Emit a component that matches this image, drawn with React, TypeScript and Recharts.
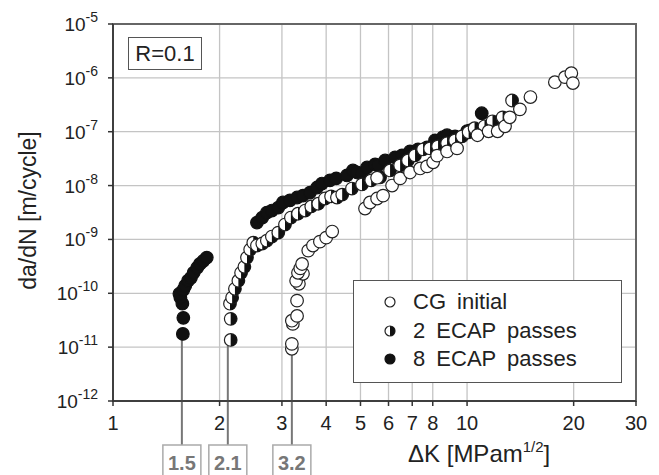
import React from 'react';
import {
  ScatterChart,
  Scatter,
  XAxis,
  YAxis,
  CartesianGrid,
  ReferenceLine,
  ReferenceArea,
  Legend,
} from 'recharts';

const FONT = '"Liberation Sans", Arial, Helvetica, sans-serif';

// [dK (MPa m^1/2), da/dN (m/cycle)]
const cgInitial: [number, number][] = [
  [3.2, 9.3e-12], [3.2, 1.15e-11], [3.22, 2.7e-11], [3.2, 3.1e-11], [3.31, 3.8e-11],
  [3.31, 7.3e-11], [3.35, 1.5e-10], [3.29, 1.7e-10], [3.44, 2.3e-10], [3.33, 2.4e-10],
  [3.38, 2.9e-10], [3.42, 3.5e-10], [3.56, 6.2e-10], [3.67, 7.7e-10], [3.84, 9.1e-10],
  [4.0, 1.08e-9], [4.16, 1.4e-9], [5.15, 3.75e-9], [5.32, 4.85e-9], [5.57, 5.75e-9],
  [5.79, 6.5e-9], [5.57, 1.4e-8], [6.14, 1.0e-8], [6.47, 1.36e-8], [6.9, 1.75e-8],
  [7.37, 2.08e-8], [7.71, 2.27e-8], [8.02, 2.7e-8], [8.23, 3.6e-8], [8.78, 4.3e-8],
  [9.37, 4.9e-8], [10.7, 8.6e-8], [11.5, 1.02e-7], [12.2, 1.02e-7], [12.8, 1.26e-7],
  [13.2, 1.85e-7], [14.1, 2.6e-7], [15.1, 4.4e-7], [17.7, 8.3e-7], [18.9, 1.03e-6],
  [19.7, 1.22e-6], [19.9, 8.0e-7],
];

const ecap2: [number, number][] = [
  [2.15, 1.36e-11], [2.15, 3.35e-11], [2.14, 6.4e-11], [2.17, 8.3e-11], [2.21, 1.21e-10],
  [2.26, 1.71e-10], [2.3, 2.4e-10], [2.35, 3.1e-10], [2.39, 4.6e-10], [2.44, 6.5e-10],
  [2.49, 8.7e-10], [2.55, 7.7e-10], [2.64, 8.4e-10], [2.72, 9.5e-10], [2.81, 1.13e-9],
  [2.93, 1.34e-9], [3.06, 1.89e-9], [3.18, 2.55e-9], [3.33, 3.0e-9], [3.49, 3.44e-9],
  [3.63, 4.1e-9], [3.8, 4.6e-9], [3.97, 5.75e-9], [4.13, 6.3e-9], [4.29, 6.0e-9],
  [4.44, 6.8e-9], [4.73, 8.8e-9], [5.05, 1.05e-8], [5.36, 1.25e-8], [5.68, 1.42e-8],
  [6.06, 1.91e-8], [6.47, 2.37e-8], [6.81, 2.93e-8], [7.13, 3.64e-8], [7.51, 4.7e-8],
  [7.86, 4.9e-8], [8.28, 5.35e-8], [8.78, 6.1e-8], [9.25, 6.9e-8], [9.68, 8.2e-8],
  [10.1, 9.75e-8], [10.5, 1.16e-7], [11.2, 1.26e-7], [11.8, 1.56e-7], [12.6, 1.85e-7],
  [13.4, 3.8e-7],
];

const ecap8: [number, number][] = [
  [1.575, 1.76e-11], [1.58, 3.5e-11], [1.57, 6.4e-11], [1.55, 8.3e-11], [1.54, 9.8e-11],
  [1.58, 1.16e-10], [1.6, 1.38e-10], [1.63, 1.71e-10], [1.66, 1.94e-10], [1.69, 2.41e-10],
  [1.73, 3.0e-10], [1.76, 3.5e-10], [1.8, 4.0e-10], [1.84, 4.6e-10], [2.55, 2.06e-9],
  [2.64, 2.55e-9], [2.72, 3.15e-9], [2.81, 3.44e-9], [2.93, 3.9e-9], [3.02, 4.85e-9],
  [3.16, 5.3e-9], [3.31, 6.0e-9], [3.44, 6.5e-9], [3.6, 7.4e-9], [3.77, 9.2e-9],
  [3.89, 1.09e-8], [4.1, 1.25e-8], [4.27, 1.36e-8], [4.58, 1.54e-8], [4.76, 1.91e-8],
  [4.89, 1.75e-8], [5.05, 1.68e-8], [5.22, 2.17e-8], [5.5, 2.47e-8], [5.61, 2.37e-8],
  [5.87, 2.93e-8], [6.26, 3.34e-8], [6.55, 3.64e-8], [6.9, 4.32e-8], [7.27, 4.7e-8],
  [7.71, 5.1e-8], [8.12, 6.9e-8], [8.55, 7.9e-8], [8.78, 8.6e-8], [9.25, 8.2e-8],
  [10.0, 1.02e-7], [10.2, 1.06e-7], [11.0, 2.2e-7],
];

const xTicks = [1, 2, 3, 4, 5, 6, 7, 8, 10, 20, 30];
const yTicks = [1e-12, 1e-11, 1e-10, 1e-9, 1e-8, 1e-7, 1e-6, 1e-5];

// threshold markers below the axis
const thresholdK = [1.565, 2.11, 3.2];
const thresholdText = ['1.5', '2.1', '3.2'];
const thresholdLowest = [1.76e-11, 1.36e-11, 9.3e-12];

type Kind = 'open' | 'half' | 'full';

const seriesList: { name: string; kind: Kind; data: [number, number][] }[] = [
  { name: 'CG initial', kind: 'open', data: cgInitial },
  { name: '2 ECAP passes', kind: 'half', data: ecap2 },
  { name: '8 ECAP passes', kind: 'full', data: ecap8 },
];

const toPoints = (arr: [number, number][]) => arr.map(([x, y]) => ({ x, y }));

const Marker = ({ cx, cy, r = 6.3, kind }: { cx: number; cy: number; r?: number; kind: Kind }) => {
  if (cx == null || cy == null) return null;
  if (kind === 'full') {
    return <circle cx={cx} cy={cy} r={r} fill="#111" stroke="#111" strokeWidth={1.2} />;
  }
  return (
    <g>
      <circle cx={cx} cy={cy} r={r} fill="#fff" stroke="#222" strokeWidth={1.2} />
      {kind === 'half' && (
        <path d={`M${cx},${cy - r} A${r},${r} 0 0 1 ${cx},${cy + r} Z`} fill="#111" />
      )}
    </g>
  );
};

const PowerTick = (props: any) => {
  const { x, y, payload } = props;
  const exp = Math.round(Math.log10(payload.value));
  return (
    <text x={x - 8} y={y + 7} textAnchor="end" fontFamily={FONT} fontSize={19} fill="#222">
      10
      <tspan dy={-9} fontSize={14}>
        {exp}
      </tspan>
    </text>
  );
};

const XTitle = (props: any) => {
  const { viewBox } = props;
  return (
    <text x={viewBox.x + 295} y={viewBox.y + 61} fontFamily={FONT} fontSize={24} fill="#222">
      ΔK [MPam
      <tspan dy={-10} fontSize={15}>
        1/2
      </tspan>
      <tspan dy={10}>]</tspan>
    </text>
  );
};

const YTitle = (props: any) => {
  const { viewBox } = props;
  const cx = viewBox.x + 3;
  const cy = viewBox.y + viewBox.height / 2 - 2;
  return (
    <text
      x={cx}
      y={cy}
      transform={`rotate(-90, ${cx}, ${cy})`}
      textAnchor="middle"
      fontFamily={FONT}
      fontSize={23}
      fill="#222"
    >
      da/dN [m/cycle]
    </text>
  );
};

const thresholdLabel = (text: string) => (props: any) => {
  const { viewBox } = props;
  const x = viewBox.x;
  const bottom = viewBox.y + viewBox.height;
  const boxTop = bottom + 44;
  return (
    <g>
      <line x1={x} y1={bottom} x2={x} y2={boxTop} stroke="#777" strokeWidth={2} />
      <rect x={x - 19} y={boxTop} width={38} height={34} fill="#fff" stroke="#aaa" strokeWidth={1.5} />
      <text
        x={x}
        y={boxTop + 25}
        textAnchor="middle"
        fontFamily={FONT}
        fontSize={20}
        fontWeight="bold"
        fill="#777"
      >
        {text}
      </text>
    </g>
  );
};

const LegendBox = () => (
  <div
    style={{
      border: '1.5px solid #555',
      background: '#fff',
      boxSizing: 'border-box',
      width: 269,
      height: 103,
      padding: '7px 0 0 26px',
      fontFamily: FONT,
      fontSize: 22,
      color: '#222',
    }}
  >
    {seriesList.map((s) => (
      <div key={s.name} style={{ display: 'flex', alignItems: 'center', height: 28.5, wordSpacing: 5 }}>
        <svg width={20} height={20} style={{ marginRight: 13 }}>
          <Marker cx={10} cy={10} r={5} kind={s.kind} />
        </svg>
        <span>{s.name}</span>
      </div>
    ))}
  </div>
);

export default function App() {
  // drawn bottom-up: filled, half, open on top
  const drawOrder = [seriesList[2], seriesList[1], seriesList[0]];
  return (
    <div style={{ position: 'absolute', left: 0, top: 0, width: 659, height: 475, background: '#fff' }}>
      <ScatterChart width={659} height={475} margin={{ top: 24, right: 23, left: 33, bottom: 44 }}>
        <CartesianGrid stroke="#c4c4c4" strokeWidth={1.3} />
        <XAxis
          type="number"
          dataKey="x"
          scale="log"
          domain={[1, 30]}
          allowDataOverflow
          ticks={xTicks}
          interval={0}
          height={30}
          tickSize={5}
          tickMargin={10}
          stroke="#333"
          strokeWidth={1.5}
          tick={{ fontSize: 20, fill: '#222', fontFamily: FONT }}
          label={{ content: XTitle }}
        />
        <YAxis
          type="number"
          dataKey="y"
          scale="log"
          domain={[1e-12, 1e-5]}
          allowDataOverflow
          ticks={yTicks}
          interval={0}
          width={80}
          tickSize={5}
          stroke="#333"
          strokeWidth={1.5}
          tick={<PowerTick />}
          label={{ content: YTitle }}
        />
        <ReferenceArea
          x1={1}
          x2={30}
          y1={1e-12}
          y2={1e-5}
          fill="none"
          stroke="#666"
          strokeWidth={2}
          ifOverflow="visible"
        />
        {thresholdK.map((k, i) => (
          <ReferenceLine
            key={thresholdText[i]}
            segment={[
              { x: k, y: thresholdLowest[i] },
              { x: k, y: 1e-12 },
            ]}
            stroke="#777"
            strokeWidth={2}
            ifOverflow="visible"
            label={thresholdLabel(thresholdText[i])}
          />
        ))}
        {drawOrder.map((s) => (
          <Scatter
            key={s.name}
            name={s.name}
            data={toPoints(s.data)}
            isAnimationActive={false}
            shape={(p: any) => <Marker cx={p.cx} cy={p.cy} kind={s.kind} />}
          />
        ))}
        <Legend
          layout="horizontal"
          verticalAlign="middle"
          align="center"
          wrapperStyle={{ position: 'absolute', left: 353, top: 280, width: 269, height: 103 }}
          content={() => <LegendBox />}
        />
      </ScatterChart>
      <div
        style={{
          position: 'absolute',
          left: 128,
          top: 37,
          width: 74,
          height: 33,
          boxSizing: 'border-box',
          border: '1.5px solid #555',
          background: '#fff',
          fontFamily: FONT,
          fontSize: 22,
          color: '#222',
          display: 'flex',
          alignItems: 'center',
          justifyContent: 'center',
        }}
      >
        R=0.1
      </div>
    </div>
  );
}
